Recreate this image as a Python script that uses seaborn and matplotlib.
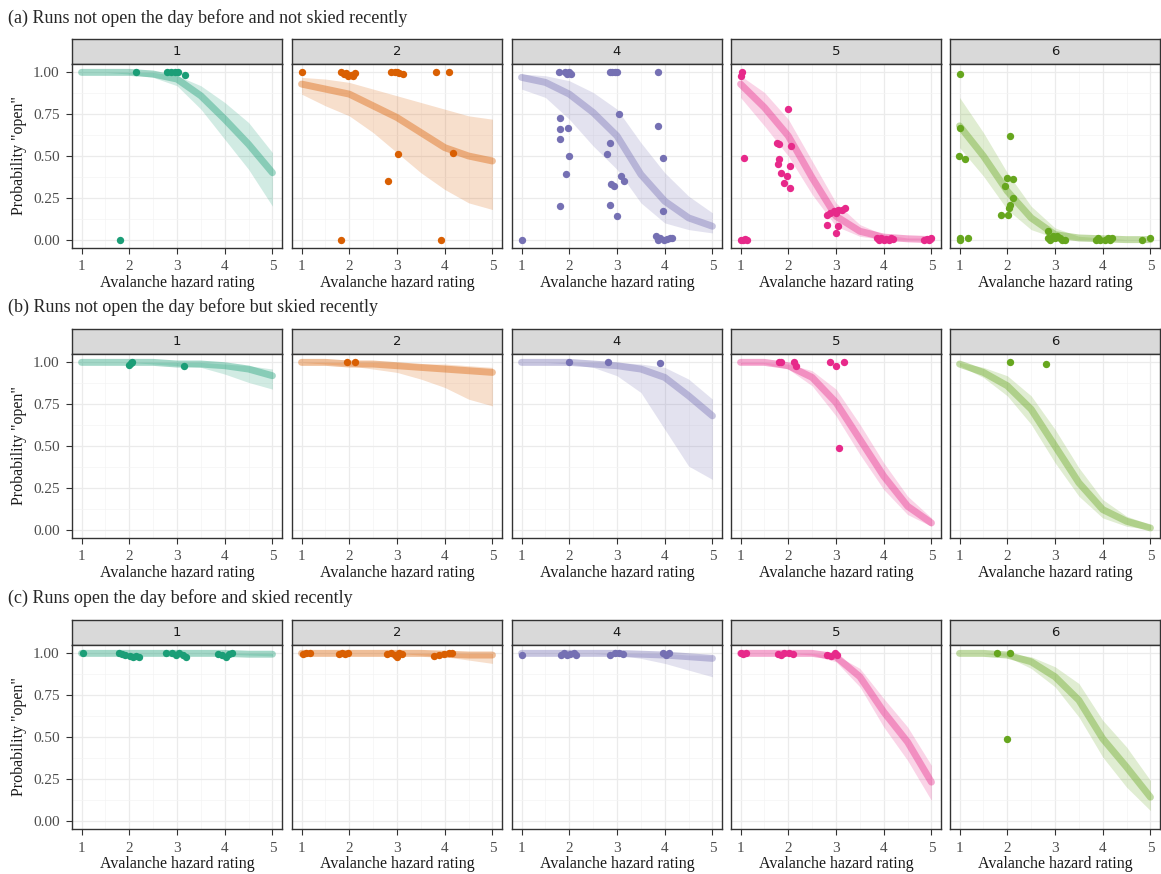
import matplotlib
matplotlib.use("Agg")
import matplotlib.pyplot as plt
import numpy as np
import pandas as pd
import seaborn as sns

# Escala de perigo e facetas
haz = [1, 1.5, 2, 2.5, 3, 3.5, 4, 4.5, 5]
facetas = ["1", "2", "4", "5", "6"]
cores = ["#1B9E77", "#D95F02", "#7570B3", "#E7298A", "#66A61E"]

titulos = ["(a) Runs not open the day before and not skied recently",
           "(b) Runs not open the day before but skied recently",
           "(c) Runs open the day before and skied recently"]

# (a) curvas: media, limite inferior, limite superior
a_media = [[1, 1, 1, 0.99, 0.96, 0.86, 0.72, 0.57, 0.40],
           [0.93, 0.9, 0.87, 0.8, 0.73, 0.64, 0.55, 0.5, 0.47],
           [0.97, 0.94, 0.87, 0.76, 0.62, 0.39, 0.23, 0.13, 0.08],
           [0.93, 0.79, 0.62, 0.37, 0.14, 0.05, 0.015, 0.005, 0.0],
           [0.68, 0.5, 0.29, 0.13, 0.03, 0.01, 0.005, 0.0, 0.0]]
a_inf = [[1, 1, 0.99, 0.97, 0.92, 0.78, 0.6, 0.42, 0.2],
         [0.87, 0.8, 0.74, 0.64, 0.52, 0.4, 0.3, 0.22, 0.18],
         [0.9, 0.85, 0.72, 0.56, 0.42, 0.22, 0.1, 0.06, 0.04],
         [0.85, 0.68, 0.5, 0.27, 0.08, 0.02, 0.0, 0.0, 0.0],
         [0.55, 0.38, 0.18, 0.06, 0.01, 0.0, 0.0, 0.0, 0.0]]
a_sup = [[1, 1, 1, 1, 0.98, 0.92, 0.82, 0.7, 0.52],
         [0.97, 0.96, 0.94, 0.9, 0.86, 0.82, 0.78, 0.74, 0.72],
         [0.99, 0.98, 0.95, 0.88, 0.78, 0.58, 0.4, 0.26, 0.16],
         [0.98, 0.88, 0.72, 0.47, 0.22, 0.09, 0.03, 0.01, 0.01],
         [0.85, 0.64, 0.4, 0.2, 0.07, 0.02, 0.01, 0.0, 0.0]]

# (b)
b_media = [[1, 1, 1, 1, 0.99, 0.99, 0.98, 0.96, 0.92],
           [1, 1, 0.99, 0.99, 0.98, 0.97, 0.96, 0.95, 0.94],
           [1, 1, 1, 0.99, 0.98, 0.96, 0.91, 0.8, 0.68],
           [1, 1, 0.98, 0.91, 0.76, 0.54, 0.32, 0.14, 0.04],
           [0.99, 0.94, 0.86, 0.72, 0.5, 0.28, 0.12, 0.05, 0.01]]
b_inf = [[1, 1, 1, 0.99, 0.98, 0.97, 0.93, 0.88, 0.84],
         [1, 0.99, 0.98, 0.96, 0.94, 0.9, 0.85, 0.78, 0.74],
         [1, 1, 0.99, 0.97, 0.92, 0.82, 0.6, 0.38, 0.3],
         [0.99, 0.99, 0.96, 0.86, 0.68, 0.45, 0.24, 0.09, 0.02],
         [0.98, 0.91, 0.8, 0.63, 0.4, 0.2, 0.07, 0.02, 0.0]]
b_sup = [[1, 1, 1, 1, 1, 1, 0.99, 0.98, 0.96],
         [1, 1, 1, 1, 1, 0.99, 0.99, 0.98, 0.97],
         [1, 1, 1, 1, 1, 0.99, 0.97, 0.9, 0.78],
         [1, 1, 0.99, 0.95, 0.84, 0.63, 0.4, 0.2, 0.07],
         [1, 0.97, 0.92, 0.8, 0.6, 0.37, 0.18, 0.08, 0.03]]

# (c)
c_media = [[1, 1, 1, 1, 1, 1, 1, 0.995, 0.995],
           [1, 1, 1, 1, 1, 1, 0.995, 0.99, 0.99],
           [1, 1, 1, 1, 1, 0.995, 0.99, 0.98, 0.97],
           [1, 1, 1, 1, 0.98, 0.86, 0.65, 0.47, 0.23],
           [1, 1, 0.99, 0.95, 0.86, 0.72, 0.49, 0.32, 0.14]]
c_inf = [[1, 1, 1, 1, 1, 1, 0.995, 0.99, 0.985],
         [1, 1, 1, 1, 1, 0.99, 0.98, 0.96, 0.94],
         [1, 1, 1, 1, 0.99, 0.97, 0.94, 0.9, 0.86],
         [1, 1, 1, 0.99, 0.95, 0.8, 0.56, 0.36, 0.12],
         [1, 1, 0.98, 0.91, 0.8, 0.62, 0.38, 0.2, 0.06]]
c_sup = [[1, 1, 1, 1, 1, 1, 1, 1, 1],
         [1, 1, 1, 1, 1, 1, 1, 1, 1],
         [1, 1, 1, 1, 1, 1, 1, 0.99, 0.99],
         [1, 1, 1, 1, 0.99, 0.91, 0.73, 0.56, 0.33],
         [1, 1, 1, 0.98, 0.92, 0.82, 0.6, 0.44, 0.24]]

# Pontos observados
a_px = [[1.8, 2.15, 2.8, 2.88, 2.95, 3.02, 3.17],
        [1.0, 1.82, 1.88, 1.93, 1.98, 2.03, 2.08, 2.12, 2.88, 2.95, 3.0, 3.05, 3.12, 3.82, 4.08, 3.02, 2.82, 4.18, 1.83, 3.92],
        [1.0, 1.79, 1.92, 1.96, 2.0, 2.04, 2.85, 2.9, 2.95, 3.0, 3.86, 1.8, 1.8, 1.81, 1.98, 2.0, 1.93, 1.81, 3.04, 2.85,
         2.79, 3.08, 3.15, 2.87, 2.94, 2.85, 3.0, 3.86, 3.97, 3.97, 3.82, 3.85, 3.9, 3.98, 4.05, 4.1, 4.15],
        [1.0, 1.02, 1.08, 1.0, 1.05, 1.1, 1.14, 1.99, 1.77, 1.8, 2.06, 1.8, 1.79, 2.04, 1.85, 1.98, 1.92, 2.03, 2.82, 2.88,
         2.95, 3.0, 3.05, 3.12, 3.18, 2.81, 3.04, 2.99, 3.85, 3.9, 3.95, 4.0, 4.05, 4.1, 4.15, 4.2, 4.85, 4.9, 4.95, 5.0],
        [1.0, 1.0, 0.99, 1.12, 1.0, 1.01, 1.17, 2.06, 2.0, 2.12, 1.96, 2.13, 2.06, 2.03, 1.86, 2.01, 2.86, 2.85, 2.9, 2.95,
         3.0, 3.05, 3.1, 3.15, 3.2, 3.85, 3.9, 3.95, 4.05, 4.1, 4.15, 4.2, 4.83, 4.99]]
a_py = [[0.0, 1.0, 1.0, 1.0, 1.0, 1.0, 0.985],
        [1.0, 1.0, 0.99, 0.995, 0.98, 0.985, 0.98, 0.995, 1.0, 1.0, 1.0, 0.995, 0.99, 1.0, 1.0, 0.51, 0.35, 0.52, 0.0, 0.0],
        [0.0, 1.0, 1.0, 0.99, 1.0, 0.99, 1.0, 1.0, 1.0, 1.0, 1.0, 0.73, 0.66, 0.60, 0.67, 0.50, 0.39, 0.20, 0.75, 0.58,
         0.51, 0.38, 0.35, 0.33, 0.32, 0.21, 0.14, 0.68, 0.49, 0.17, 0.02, 0.0, 0.01, 0.0, 0.005, 0.01, 0.01],
        [0.98, 1.0, 0.49, 0.0, 0.0, 0.005, 0.0, 0.78, 0.58, 0.57, 0.56, 0.48, 0.45, 0.44, 0.40, 0.38, 0.34, 0.31, 0.15, 0.16,
         0.17, 0.16, 0.18, 0.18, 0.19, 0.09, 0.08, 0.04, 0.01, 0.0, 0.01, 0.0, 0.005, 0.0, 0.01, 0.005, 0.0, 0.005, 0.0, 0.01],
        [0.99, 0.67, 0.50, 0.48, 0.01, 0.0, 0.01, 0.62, 0.37, 0.36, 0.32, 0.25, 0.21, 0.19, 0.15, 0.15, 0.05, 0.01, 0.0, 0.02,
         0.01, 0.02, 0.01, 0.0, 0.0, 0.0, 0.01, 0.0, 0.0, 0.01, 0.0, 0.01, 0.0, 0.01]]

b_px = [[2.0, 2.03, 2.05, 3.15],
        [1.96, 2.13],
        [1.99, 2.82, 3.9],
        [1.8, 1.85, 2.13, 2.17, 2.88, 3.0, 3.17, 3.07],
        [2.05, 2.81]]
b_py = [[0.985, 0.995, 1.0, 0.98],
        [1.0, 1.0],
        [1.0, 1.0, 0.995],
        [1.0, 1.0, 1.0, 0.98, 1.0, 0.98, 1.0, 0.49],
        [1.0, 0.99]]

c_px = [[1.02, 1.78, 1.85, 1.92, 2.02, 2.08, 2.15, 2.2, 2.78, 2.9, 2.98, 3.05, 3.12, 3.18, 3.85, 3.95, 4.02, 4.08, 4.15],
        [1.03, 1.1, 1.18, 1.78, 1.85, 1.92, 1.98, 2.8, 2.88, 2.95, 3.0, 3.05, 3.1, 3.78, 3.88, 3.98, 4.08, 4.15],
        [1.0, 1.82, 1.88, 1.95, 2.02, 2.1, 2.15, 2.86, 2.95, 3.05, 3.12, 3.96, 4.02, 4.08],
        [1.0, 1.06, 1.12, 1.78, 1.85, 1.92, 2.02, 2.1, 2.82, 2.9, 2.98, 3.02],
        [1.79, 2.05, 2.0]]
c_py = [[1.0, 1.0, 0.995, 0.99, 0.985, 0.98, 0.985, 0.98, 1.0, 1.0, 0.99, 1.0, 0.99, 0.98, 0.995, 0.99, 0.98, 0.995, 1.0],
        [0.995, 1.0, 1.0, 0.995, 1.0, 0.995, 1.0, 0.995, 1.0, 0.99, 0.98, 1.0, 0.995, 0.985, 0.99, 0.995, 1.0, 1.0],
        [0.99, 0.99, 1.0, 0.99, 0.995, 1.0, 0.99, 0.99, 1.0, 1.0, 0.995, 1.0, 0.99, 1.0],
        [1.0, 0.995, 1.0, 0.995, 0.99, 1.0, 1.0, 0.995, 0.99, 0.985, 1.0, 0.99],
        [1.0, 1.0, 0.49]]

linhas = [(a_media, a_inf, a_sup, a_px, a_py),
          (b_media, b_inf, b_sup, b_px, b_py),
          (c_media, c_inf, c_sup, c_px, c_py)]

sns.set_theme(style="white")
plt.rcParams['font.family'] = ['Liberation Serif', 'DejaVu Serif']

W, H = 1161, 874
fig = plt.figure(figsize=(W / 100, H / 100), dpi=100)

col_x = [72, 292, 512, 731, 950]
largura = 210
strip_h = 25
painel_h = 184
topo_strip = [39, 329, 620]
titulo_y = [18, 307, 598]


def caixa(x, y, w, h):
    # converte pixels (a partir do topo) para coordenadas da figura
    return [x / W, 1 - (y + h) / H, w / W, h / H]


for r, (media, inf, sup, px, py) in enumerate(linhas):
    fig.text(8 / W, 1 - titulo_y[r] / H, titulos[r], fontsize=13, ha="left", va="center")
    for c in range(5):
        cor = cores[c]
        # faixa cinza com o nome da faceta
        sax = fig.add_axes(caixa(col_x[c], topo_strip[r], largura, strip_h))
        sax.set_facecolor("#D9D9D9")
        sax.set_xticks([])
        sax.set_yticks([])
        for s in sax.spines.values():
            s.set_color("#333333")
            s.set_linewidth(1.0)
        sax.text(0.5, 0.5, facetas[c], ha="center", va="center", fontsize=9.5,
                 color="#1A1A1A", family="DejaVu Sans", transform=sax.transAxes)

        ax = fig.add_axes(caixa(col_x[c], topo_strip[r] + strip_h, largura, painel_h))
        ax.set_facecolor("white")
        ax.fill_between(haz, inf[c], sup[c], color=cor, alpha=0.2, linewidth=0)
        df_curva = pd.DataFrame({"haz": haz, "p": media[c]})
        sns.lineplot(data=df_curva, x="haz", y="p", ax=ax, color=cor, alpha=0.4, linewidth=5)
        df_pts = pd.DataFrame({"haz": px[c], "p": py[c]})
        sns.scatterplot(data=df_pts, x="haz", y="p", ax=ax, color=cor, s=28, linewidth=0, zorder=5)

        ax.set_xlim(0.8, 5.2)
        ax.set_ylim(-0.05, 1.05)
        ax.set_xticks([1, 2, 3, 4, 5])
        ax.set_yticks([0, 0.25, 0.5, 0.75, 1.0])
        ax.set_xticks([1.5, 2.5, 3.5, 4.5], minor=True)
        ax.set_yticks([0.125, 0.375, 0.625, 0.875], minor=True)
        ax.grid(True, which="major", color="#EBEBEB", linewidth=0.9)
        ax.grid(True, which="minor", color="#F4F4F4", linewidth=0.5)
        ax.set_axisbelow(True)
        for s in ax.spines.values():
            s.set_color("#333333")
            s.set_linewidth(1.0)
        ax.tick_params(which="major", direction="out", length=4, width=0.8, color="#333333",
                       labelsize=11, labelcolor="#4D4D4D", bottom=True, left=(c == 0), pad=5)
        ax.tick_params(which="minor", length=0)
        ax.set_xlabel("Avalanche hazard rating", fontsize=11.5, color="#1A1A1A", labelpad=1)
        if c == 0:
            ax.set_yticklabels(["0.00", "0.25", "0.50", "0.75", "1.00"])
            ax.set_ylabel('Probability "open"', fontsize=11.5, color="#1A1A1A", labelpad=4)
        else:
            ax.set_yticklabels([])
            ax.set_ylabel("")

fig.savefig("out.png", dpi=100)
